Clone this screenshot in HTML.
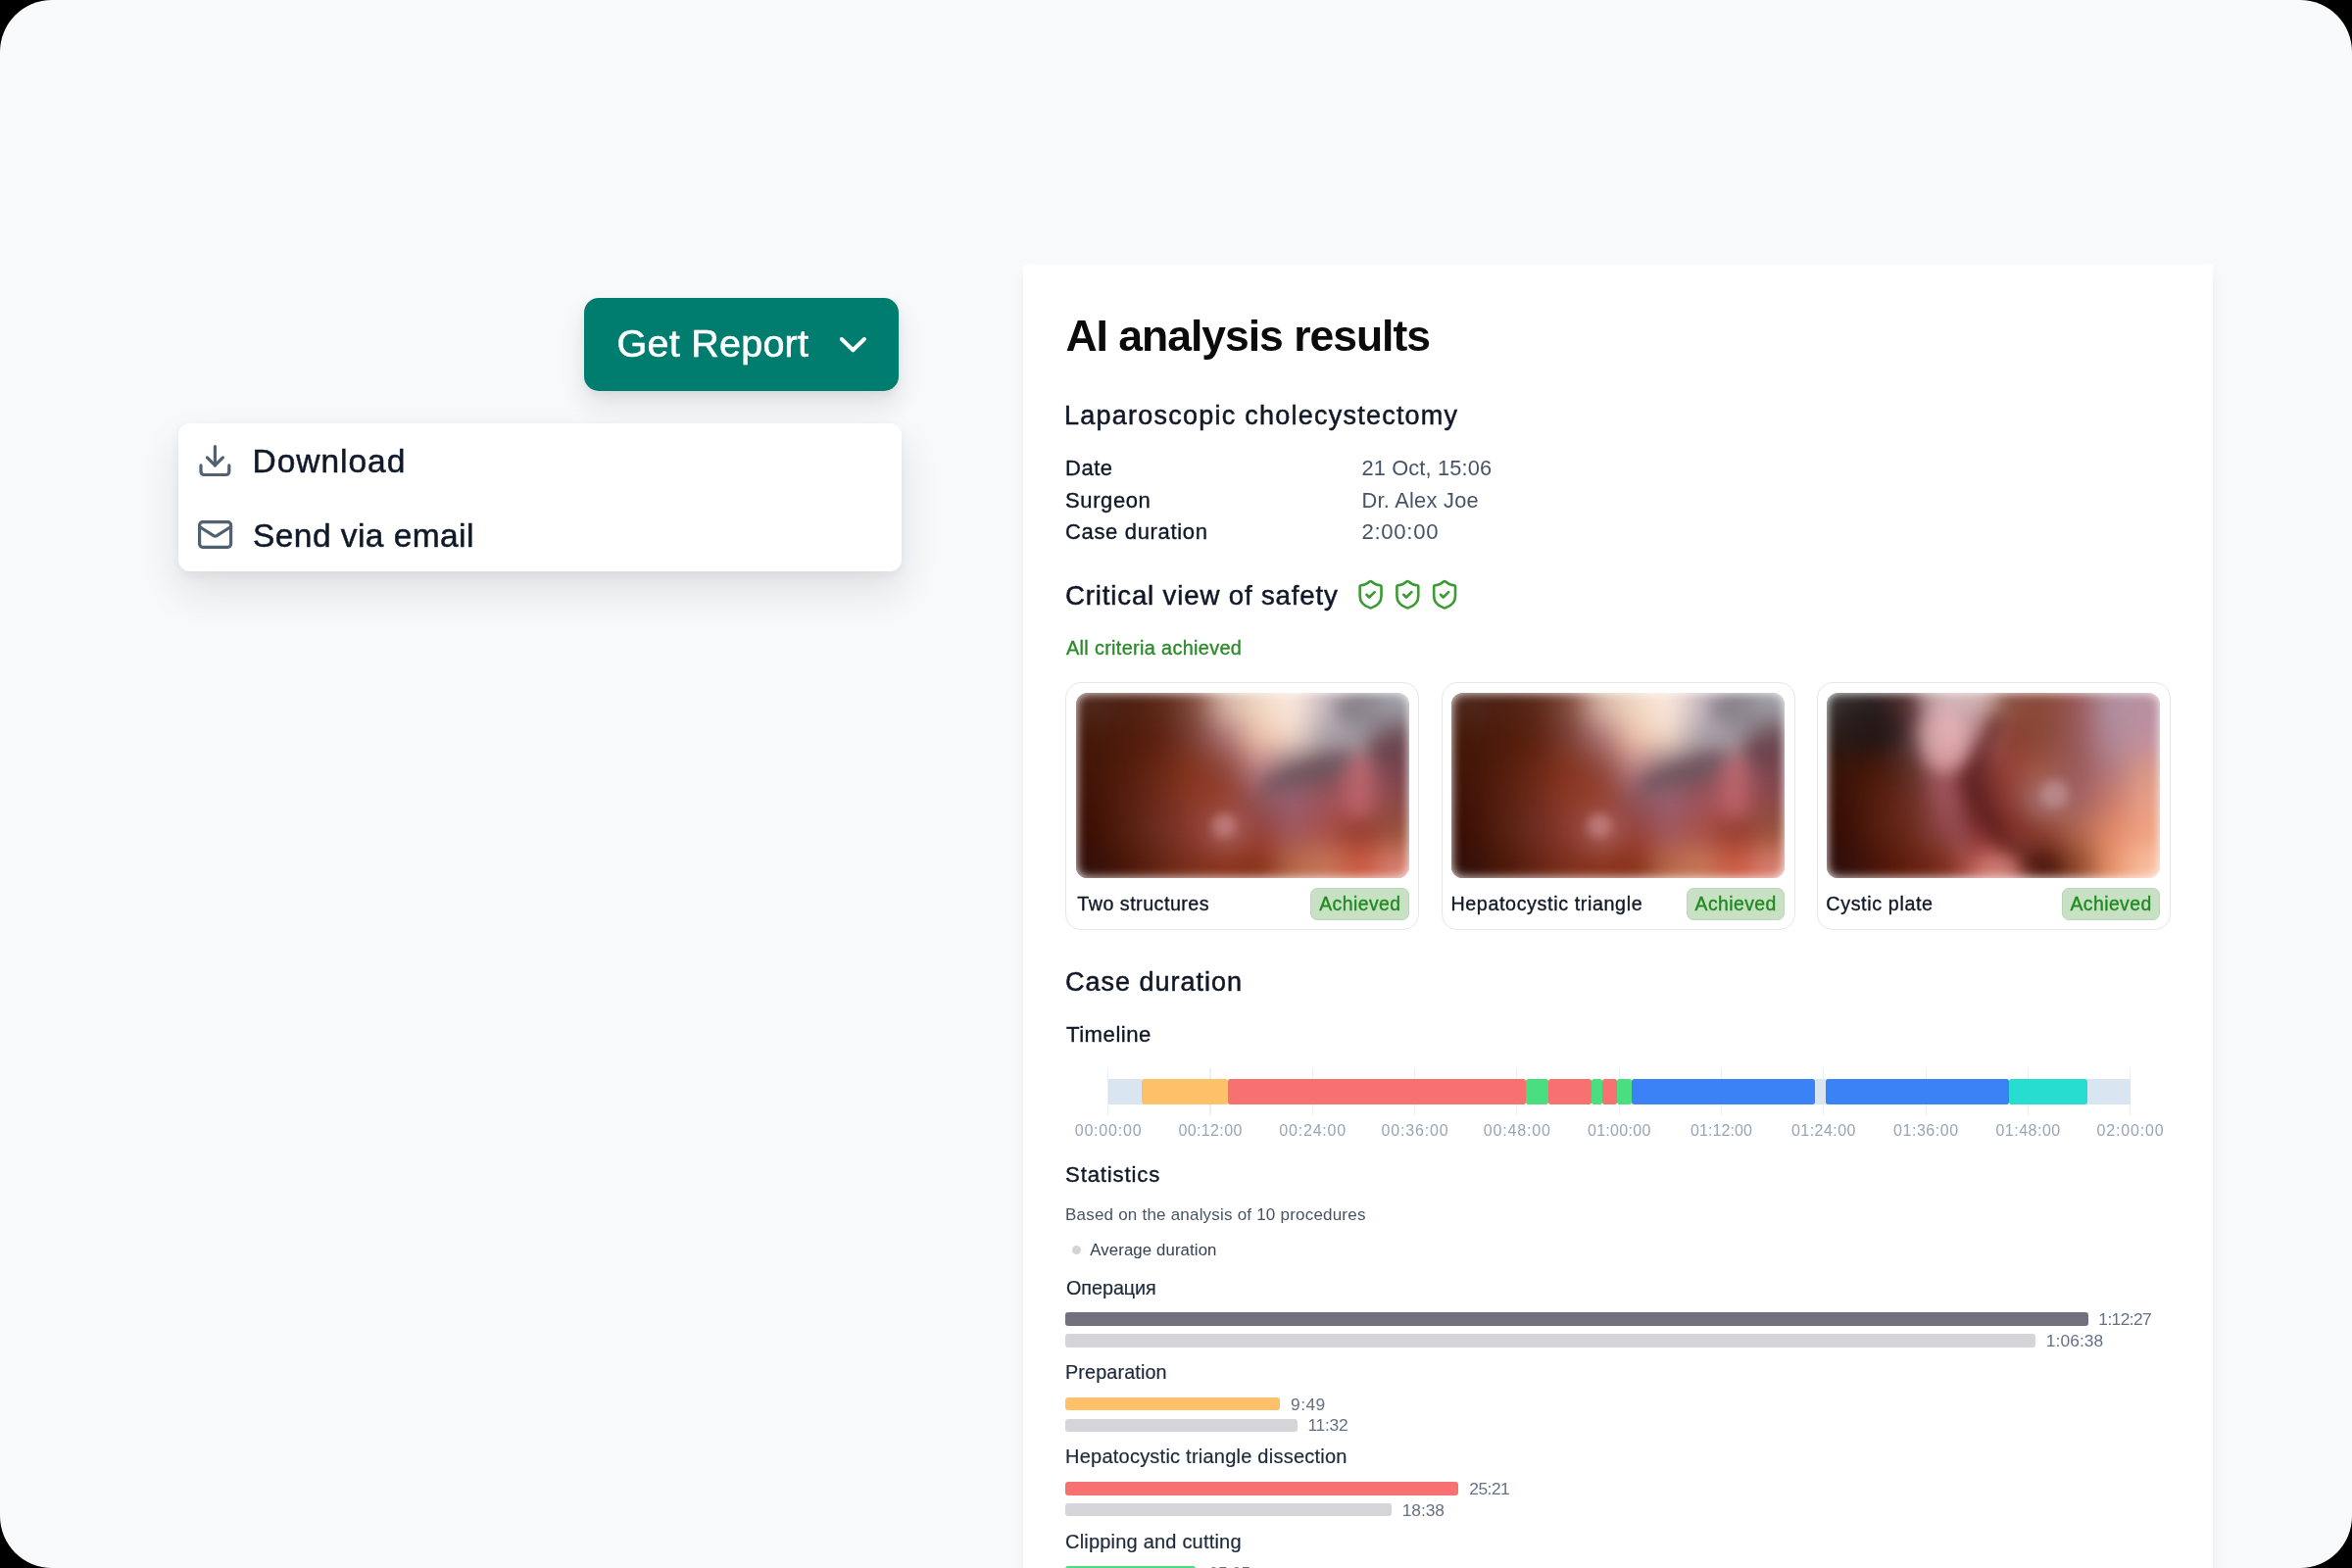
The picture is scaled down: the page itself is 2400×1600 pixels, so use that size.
<!DOCTYPE html>
<html><head><meta charset="utf-8"><title>AI analysis results</title>
<style>
html,body{margin:0;padding:0;background:#000;}
body{width:2400px;height:1600px;overflow:hidden;position:relative;font-family:"Liberation Sans",sans-serif;}
#bg{will-change:transform;position:absolute;left:0;top:0;width:2400px;height:1600px;background:#F8F9FB;border-radius:53px;overflow:hidden;}
.t{position:absolute;white-space:nowrap;line-height:1;font-family:"Liberation Sans",sans-serif;}
.r,.ic,.img{position:absolute;}
#btn{position:absolute;left:596px;top:304px;width:321px;height:95px;border-radius:15px;background:#007D6F;box-shadow:0 14px 26px rgba(16,24,40,0.11),0 3px 8px rgba(16,24,40,0.05);}
#dd{position:absolute;left:181.6px;top:432.2px;width:738.8px;height:151.2px;border-radius:12px;background:#fff;box-shadow:0 20px 40px rgba(16,24,40,0.11),0 4px 12px rgba(16,24,40,0.05);}
#panel{position:absolute;left:1043.8px;top:269.6px;width:1214.4px;height:1400px;background:#fff;box-shadow:0 9px 14px -2px rgba(16,24,40,0.07);}
.card{position:absolute;width:359px;height:251px;border:1px solid #E7E7E8;border-radius:16px;background:#fff;}
.badge{position:absolute;width:98.7px;height:31px;border:1px solid #B9D8B6;border-radius:7px;background:#C8E1C5;}
</style></head><body><div id="bg">
<div id="panel"></div>
<div id="btn"></div>
<div id="dd"></div>
<svg class="ic" style="left:0;top:0" width="2400" height="1600" viewBox="0 0 2400 1600" fill="none" stroke-linecap="round" stroke-linejoin="round">
<path d="M858.8 346 L870.4 357.3 L882 346" stroke="#fff" stroke-width="4"/>
<g transform="translate(200.2 450.9) scale(1.6)" stroke="#526072" stroke-width="2"><path d="M21 15v4a2 2 0 0 1-2 2H5a2 2 0 0 1-2-2v-4"/><polyline points="7 10 12 15 17 10"/><line x1="12" y1="15" x2="12" y2="3"/></g>
<g transform="translate(200.4 526.3) scale(1.6)" stroke="#526072" stroke-width="2"><rect x="2" y="4" width="20" height="16" rx="2"/><path d="m22 7-8.97 5.7a1.94 1.94 0 0 1-2.06 0L2 7"/></g>
<g transform="translate(1382.20 590.4) scale(1.366)" stroke="#3B9B33" stroke-width="1.9"><path d="M20 13c0 5-3.5 7.5-7.66 8.95a1 1 0 0 1-.67-.01C7.5 20.5 4 18 4 13V6a1 1 0 0 1 1-1c2 0 4.5-1.2 6.24-2.72a1.17 1.17 0 0 1 1.52 0C14.51 3.81 17 5 19 5a1 1 0 0 1 1 1z"/><path d="m9 12 2 2 4-4"/></g><g transform="translate(1419.95 590.4) scale(1.366)" stroke="#3B9B33" stroke-width="1.9"><path d="M20 13c0 5-3.5 7.5-7.66 8.95a1 1 0 0 1-.67-.01C7.5 20.5 4 18 4 13V6a1 1 0 0 1 1-1c2 0 4.5-1.2 6.24-2.72a1.17 1.17 0 0 1 1.52 0C14.51 3.81 17 5 19 5a1 1 0 0 1 1 1z"/><path d="m9 12 2 2 4-4"/></g><g transform="translate(1457.70 590.4) scale(1.366)" stroke="#3B9B33" stroke-width="1.9"><path d="M20 13c0 5-3.5 7.5-7.66 8.95a1 1 0 0 1-.67-.01C7.5 20.5 4 18 4 13V6a1 1 0 0 1 1-1c2 0 4.5-1.2 6.24-2.72a1.17 1.17 0 0 1 1.52 0C14.51 3.81 17 5 19 5a1 1 0 0 1 1 1z"/><path d="m9 12 2 2 4-4"/></g>
</svg>
<div class="r" style="left:1130.1px;top:1090.0px;width:1.2px;height:48.0px;background:#E9F0F9;border-radius:0px;"></div><div class="r" style="left:1234.4px;top:1090.0px;width:1.2px;height:48.0px;background:#E9F0F9;border-radius:0px;"></div><div class="r" style="left:1338.7px;top:1090.0px;width:1.2px;height:48.0px;background:#E9F0F9;border-radius:0px;"></div><div class="r" style="left:1443.0px;top:1090.0px;width:1.2px;height:48.0px;background:#E9F0F9;border-radius:0px;"></div><div class="r" style="left:1547.3px;top:1090.0px;width:1.2px;height:48.0px;background:#E9F0F9;border-radius:0px;"></div><div class="r" style="left:1651.6px;top:1090.0px;width:1.2px;height:48.0px;background:#E9F0F9;border-radius:0px;"></div><div class="r" style="left:1755.9px;top:1090.0px;width:1.2px;height:48.0px;background:#E9F0F9;border-radius:0px;"></div><div class="r" style="left:1860.2px;top:1090.0px;width:1.2px;height:48.0px;background:#E9F0F9;border-radius:0px;"></div><div class="r" style="left:1964.5px;top:1090.0px;width:1.2px;height:48.0px;background:#E9F0F9;border-radius:0px;"></div><div class="r" style="left:2068.8px;top:1090.0px;width:1.2px;height:48.0px;background:#E9F0F9;border-radius:0px;"></div><div class="r" style="left:2173.1px;top:1090.0px;width:1.2px;height:48.0px;background:#E9F0F9;border-radius:0px;"></div><div class="r" style="left:1130.7px;top:1100.8px;width:34.7px;height:26.5px;background:#D9E6F2;border-radius:0px;"></div><div class="r" style="left:1165.4px;top:1100.8px;width:87.7px;height:26.5px;background:#FFC06A;border-radius:2.5px;"></div><div class="r" style="left:1253.1px;top:1100.8px;width:303.6px;height:26.5px;background:#F87171;border-radius:2.5px;"></div><div class="r" style="left:1556.7px;top:1100.8px;width:22.9px;height:26.5px;background:#4ADE80;border-radius:2.5px;"></div><div class="r" style="left:1579.6px;top:1100.8px;width:44.4px;height:26.5px;background:#F87171;border-radius:2.5px;"></div><div class="r" style="left:1624.0px;top:1100.8px;width:11.0px;height:26.5px;background:#4ADE80;border-radius:2.5px;"></div><div class="r" style="left:1635.0px;top:1100.8px;width:14.6px;height:26.5px;background:#F87171;border-radius:2.5px;"></div><div class="r" style="left:1649.6px;top:1100.8px;width:15.0px;height:26.5px;background:#4ADE80;border-radius:2.5px;"></div><div class="r" style="left:1664.6px;top:1100.8px;width:187.2px;height:26.5px;background:#3B82F6;border-radius:2.5px;"></div><div class="r" style="left:1851.8px;top:1100.8px;width:11.2px;height:26.5px;background:#D9E6F2;border-radius:0px;"></div><div class="r" style="left:1863.0px;top:1100.8px;width:187.2px;height:26.5px;background:#3B82F6;border-radius:2.5px;"></div><div class="r" style="left:2050.2px;top:1100.8px;width:79.5px;height:26.5px;background:#26DDD0;border-radius:2.5px;"></div><div class="r" style="left:2129.7px;top:1100.8px;width:44.0px;height:26.5px;background:#D9E6F2;border-radius:0px;"></div><div class="r" style="left:1087.3px;top:1339.3px;width:1043.8px;height:13.5px;background:#71717D;border-radius:3px;"></div><div class="r" style="left:1087.3px;top:1361.1px;width:989.8px;height:13.5px;background:#D4D4D9;border-radius:3px;"></div><div class="r" style="left:1087.3px;top:1425.8px;width:218.4px;height:13.5px;background:#FFC06A;border-radius:3px;"></div><div class="r" style="left:1087.3px;top:1447.6px;width:237.2px;height:13.5px;background:#D4D4D9;border-radius:3px;"></div><div class="r" style="left:1087.3px;top:1512.0px;width:400.5px;height:13.5px;background:#F87171;border-radius:3px;"></div><div class="r" style="left:1087.3px;top:1533.8px;width:332.9px;height:13.5px;background:#D4D4D9;border-radius:3px;"></div><div class="r" style="left:1087.3px;top:1598.2px;width:132.8px;height:13.5px;background:#4ADE80;border-radius:3px;"></div><div class="r" style="left:1093.7px;top:1271.4px;width:9.0px;height:9.0px;background:#D4D4D8;border-radius:5px;"></div><div class="card" style="left:1087.3px;top:696px"></div><svg class="img" style="left:1097.9px;top:706.9px" width="340" height="189.2" viewBox="0 0 340 189.2">
<defs><filter id="f1" color-interpolation-filters="sRGB" x="-30%" y="-30%" width="160%" height="160%"><feGaussianBlur stdDeviation="14"/></filter>
<filter id="m1" color-interpolation-filters="sRGB" x="-50%" y="-50%" width="200%" height="200%"><feGaussianBlur stdDeviation="8"/></filter>
<filter id="e1" color-interpolation-filters="sRGB" x="-100%" y="-100%" width="300%" height="300%"><feGaussianBlur stdDeviation="5"/></filter><filter id="w1" color-interpolation-filters="sRGB" x="-10%" y="-15%" width="120%" height="130%"><feGaussianBlur stdDeviation="5.5"/></filter>
<clipPath id="c1"><rect x="0" y="0" width="340" height="189.2" rx="12"/></clipPath></defs>
<g clip-path="url(#c1)"><g filter="url(#f1)"><rect x="-60.0" y="-60.0" width="94.6" height="92.1" fill="#50281C"/><rect x="34.0" y="-60.0" width="34.6" height="92.1" fill="#4E2014"/><rect x="68.0" y="-60.0" width="34.6" height="92.1" fill="#5A2818"/><rect x="102.0" y="-60.0" width="34.6" height="92.1" fill="#80483C"/><rect x="136.0" y="-60.0" width="34.6" height="92.1" fill="#D8B8A8"/><rect x="170.0" y="-60.0" width="34.6" height="92.1" fill="#F0D8C4"/><rect x="204.0" y="-60.0" width="34.6" height="92.1" fill="#FCE8DC"/><rect x="238.0" y="-60.0" width="34.6" height="92.1" fill="#C8B8C0"/><rect x="272.0" y="-60.0" width="34.6" height="92.1" fill="#88808A"/><rect x="306.0" y="-60.0" width="94.6" height="92.1" fill="#A0A0A8"/><rect x="-60.0" y="31.5" width="94.6" height="32.1" fill="#441808"/><rect x="34.0" y="31.5" width="34.6" height="32.1" fill="#4E1A0A"/><rect x="68.0" y="31.5" width="34.6" height="32.1" fill="#5C200E"/><rect x="102.0" y="31.5" width="34.6" height="32.1" fill="#7A3C34"/><rect x="136.0" y="31.5" width="34.6" height="32.1" fill="#A87070"/><rect x="170.0" y="31.5" width="34.6" height="32.1" fill="#F0C0A8"/><rect x="204.0" y="31.5" width="34.6" height="32.1" fill="#F0D8C8"/><rect x="238.0" y="31.5" width="34.6" height="32.1" fill="#A8A0A8"/><rect x="272.0" y="31.5" width="34.6" height="32.1" fill="#A09CA4"/><rect x="306.0" y="31.5" width="94.6" height="32.1" fill="#6A4850"/><rect x="-60.0" y="63.1" width="94.6" height="32.1" fill="#421608"/><rect x="34.0" y="63.1" width="34.6" height="32.1" fill="#521C0C"/><rect x="68.0" y="63.1" width="34.6" height="32.1" fill="#6A2814"/><rect x="102.0" y="63.1" width="34.6" height="32.1" fill="#86341C"/><rect x="136.0" y="63.1" width="34.6" height="32.1" fill="#8C4438"/><rect x="170.0" y="63.1" width="34.6" height="32.1" fill="#B88088"/><rect x="204.0" y="63.1" width="34.6" height="32.1" fill="#7A6068"/><rect x="238.0" y="63.1" width="34.6" height="32.1" fill="#70505A"/><rect x="272.0" y="63.1" width="34.6" height="32.1" fill="#B06068"/><rect x="306.0" y="63.1" width="94.6" height="32.1" fill="#7A4450"/><rect x="-60.0" y="94.6" width="94.6" height="32.1" fill="#401206"/><rect x="34.0" y="94.6" width="34.6" height="32.1" fill="#561E10"/><rect x="68.0" y="94.6" width="34.6" height="32.1" fill="#6E2A1C"/><rect x="102.0" y="94.6" width="34.6" height="32.1" fill="#8C3A28"/><rect x="136.0" y="94.6" width="34.6" height="32.1" fill="#98402C"/><rect x="170.0" y="94.6" width="34.6" height="32.1" fill="#8C5058"/><rect x="204.0" y="94.6" width="34.6" height="32.1" fill="#986070"/><rect x="238.0" y="94.6" width="34.6" height="32.1" fill="#A05058"/><rect x="272.0" y="94.6" width="34.6" height="32.1" fill="#B86068"/><rect x="306.0" y="94.6" width="94.6" height="32.1" fill="#8A4848"/><rect x="-60.0" y="126.1" width="94.6" height="32.1" fill="#3C0E04"/><rect x="34.0" y="126.1" width="34.6" height="32.1" fill="#54200E"/><rect x="68.0" y="126.1" width="34.6" height="32.1" fill="#6E2E22"/><rect x="102.0" y="126.1" width="34.6" height="32.1" fill="#8A3A30"/><rect x="136.0" y="126.1" width="34.6" height="32.1" fill="#B06868"/><rect x="170.0" y="126.1" width="34.6" height="32.1" fill="#984038"/><rect x="204.0" y="126.1" width="34.6" height="32.1" fill="#A05860"/><rect x="238.0" y="126.1" width="34.6" height="32.1" fill="#A85048"/><rect x="272.0" y="126.1" width="34.6" height="32.1" fill="#90382A"/><rect x="306.0" y="126.1" width="94.6" height="32.1" fill="#985038"/><rect x="-60.0" y="157.7" width="94.6" height="92.1" fill="#34100A"/><rect x="34.0" y="157.7" width="34.6" height="92.1" fill="#4A1608"/><rect x="68.0" y="157.7" width="34.6" height="92.1" fill="#642414"/><rect x="102.0" y="157.7" width="34.6" height="92.1" fill="#7E301C"/><rect x="136.0" y="157.7" width="34.6" height="92.1" fill="#8A341C"/><rect x="170.0" y="157.7" width="34.6" height="92.1" fill="#88301A"/><rect x="204.0" y="157.7" width="34.6" height="92.1" fill="#B86848"/><rect x="238.0" y="157.7" width="34.6" height="92.1" fill="#C87858"/><rect x="272.0" y="157.7" width="34.6" height="92.1" fill="#CC5840"/><rect x="306.0" y="157.7" width="94.6" height="92.1" fill="#D88070"/></g><g filter="url(#m1)" fill="none" stroke-linecap="round" stroke-linejoin="round"><polyline points="197.2,94.6 272.0,68.1" stroke="#5E4C54" stroke-width="16" stroke-opacity="0.55"/><polyline points="312.8,58.7 314.5,62.4" stroke="#5E3840" stroke-width="26" stroke-opacity="0.5"/><polyline points="275.4,17.0 278.8,18.9" stroke="#787078" stroke-width="22" stroke-opacity="0.5"/><polyline points="289.0,75.7 289.0,117.3" stroke="#C86C74" stroke-width="18" stroke-opacity="0.5"/></g><g filter="url(#e1)"><ellipse cx="151.0" cy="135.3" rx="12" ry="12" fill="#CC8C8E" fill-opacity="0.6"/></g>
<rect x="-15" y="-15" width="370" height="219.2" rx="27" fill="none" stroke="#fff" stroke-opacity="0.95" stroke-width="30" filter="url(#w1)"/></g></svg><div class="badge" style="left:1337.3px;top:906px"></div><div class="card" style="left:1470.6px;top:696px"></div><svg class="img" style="left:1481.2px;top:706.9px" width="340" height="189.2" viewBox="0 0 340 189.2">
<defs><filter id="f2" color-interpolation-filters="sRGB" x="-30%" y="-30%" width="160%" height="160%"><feGaussianBlur stdDeviation="14"/></filter>
<filter id="m2" color-interpolation-filters="sRGB" x="-50%" y="-50%" width="200%" height="200%"><feGaussianBlur stdDeviation="8"/></filter>
<filter id="e2" color-interpolation-filters="sRGB" x="-100%" y="-100%" width="300%" height="300%"><feGaussianBlur stdDeviation="5"/></filter><filter id="w2" color-interpolation-filters="sRGB" x="-10%" y="-15%" width="120%" height="130%"><feGaussianBlur stdDeviation="5.5"/></filter>
<clipPath id="c2"><rect x="0" y="0" width="340" height="189.2" rx="12"/></clipPath></defs>
<g clip-path="url(#c2)"><g filter="url(#f2)"><rect x="-60.0" y="-60.0" width="94.6" height="92.1" fill="#50281C"/><rect x="34.0" y="-60.0" width="34.6" height="92.1" fill="#4E2014"/><rect x="68.0" y="-60.0" width="34.6" height="92.1" fill="#5A2818"/><rect x="102.0" y="-60.0" width="34.6" height="92.1" fill="#80483C"/><rect x="136.0" y="-60.0" width="34.6" height="92.1" fill="#D8B8A8"/><rect x="170.0" y="-60.0" width="34.6" height="92.1" fill="#F0D8C4"/><rect x="204.0" y="-60.0" width="34.6" height="92.1" fill="#FCE8DC"/><rect x="238.0" y="-60.0" width="34.6" height="92.1" fill="#C8B8C0"/><rect x="272.0" y="-60.0" width="34.6" height="92.1" fill="#88808A"/><rect x="306.0" y="-60.0" width="94.6" height="92.1" fill="#A0A0A8"/><rect x="-60.0" y="31.5" width="94.6" height="32.1" fill="#441808"/><rect x="34.0" y="31.5" width="34.6" height="32.1" fill="#4E1A0A"/><rect x="68.0" y="31.5" width="34.6" height="32.1" fill="#5C200E"/><rect x="102.0" y="31.5" width="34.6" height="32.1" fill="#7A3C34"/><rect x="136.0" y="31.5" width="34.6" height="32.1" fill="#A87070"/><rect x="170.0" y="31.5" width="34.6" height="32.1" fill="#F0C0A8"/><rect x="204.0" y="31.5" width="34.6" height="32.1" fill="#F0D8C8"/><rect x="238.0" y="31.5" width="34.6" height="32.1" fill="#A8A0A8"/><rect x="272.0" y="31.5" width="34.6" height="32.1" fill="#A09CA4"/><rect x="306.0" y="31.5" width="94.6" height="32.1" fill="#6A4850"/><rect x="-60.0" y="63.1" width="94.6" height="32.1" fill="#421608"/><rect x="34.0" y="63.1" width="34.6" height="32.1" fill="#521C0C"/><rect x="68.0" y="63.1" width="34.6" height="32.1" fill="#6A2814"/><rect x="102.0" y="63.1" width="34.6" height="32.1" fill="#86341C"/><rect x="136.0" y="63.1" width="34.6" height="32.1" fill="#8C4438"/><rect x="170.0" y="63.1" width="34.6" height="32.1" fill="#B88088"/><rect x="204.0" y="63.1" width="34.6" height="32.1" fill="#7A6068"/><rect x="238.0" y="63.1" width="34.6" height="32.1" fill="#70505A"/><rect x="272.0" y="63.1" width="34.6" height="32.1" fill="#B06068"/><rect x="306.0" y="63.1" width="94.6" height="32.1" fill="#7A4450"/><rect x="-60.0" y="94.6" width="94.6" height="32.1" fill="#401206"/><rect x="34.0" y="94.6" width="34.6" height="32.1" fill="#561E10"/><rect x="68.0" y="94.6" width="34.6" height="32.1" fill="#6E2A1C"/><rect x="102.0" y="94.6" width="34.6" height="32.1" fill="#8C3A28"/><rect x="136.0" y="94.6" width="34.6" height="32.1" fill="#98402C"/><rect x="170.0" y="94.6" width="34.6" height="32.1" fill="#8C5058"/><rect x="204.0" y="94.6" width="34.6" height="32.1" fill="#986070"/><rect x="238.0" y="94.6" width="34.6" height="32.1" fill="#A05058"/><rect x="272.0" y="94.6" width="34.6" height="32.1" fill="#B86068"/><rect x="306.0" y="94.6" width="94.6" height="32.1" fill="#8A4848"/><rect x="-60.0" y="126.1" width="94.6" height="32.1" fill="#3C0E04"/><rect x="34.0" y="126.1" width="34.6" height="32.1" fill="#54200E"/><rect x="68.0" y="126.1" width="34.6" height="32.1" fill="#6E2E22"/><rect x="102.0" y="126.1" width="34.6" height="32.1" fill="#8A3A30"/><rect x="136.0" y="126.1" width="34.6" height="32.1" fill="#B06868"/><rect x="170.0" y="126.1" width="34.6" height="32.1" fill="#984038"/><rect x="204.0" y="126.1" width="34.6" height="32.1" fill="#A05860"/><rect x="238.0" y="126.1" width="34.6" height="32.1" fill="#A85048"/><rect x="272.0" y="126.1" width="34.6" height="32.1" fill="#90382A"/><rect x="306.0" y="126.1" width="94.6" height="32.1" fill="#985038"/><rect x="-60.0" y="157.7" width="94.6" height="92.1" fill="#34100A"/><rect x="34.0" y="157.7" width="34.6" height="92.1" fill="#4A1608"/><rect x="68.0" y="157.7" width="34.6" height="92.1" fill="#642414"/><rect x="102.0" y="157.7" width="34.6" height="92.1" fill="#7E301C"/><rect x="136.0" y="157.7" width="34.6" height="92.1" fill="#8A341C"/><rect x="170.0" y="157.7" width="34.6" height="92.1" fill="#88301A"/><rect x="204.0" y="157.7" width="34.6" height="92.1" fill="#B86848"/><rect x="238.0" y="157.7" width="34.6" height="92.1" fill="#C87858"/><rect x="272.0" y="157.7" width="34.6" height="92.1" fill="#CC5840"/><rect x="306.0" y="157.7" width="94.6" height="92.1" fill="#D88070"/></g><g filter="url(#m2)" fill="none" stroke-linecap="round" stroke-linejoin="round"><polyline points="197.2,94.6 272.0,68.1" stroke="#5E4C54" stroke-width="16" stroke-opacity="0.55"/><polyline points="312.8,58.7 314.5,62.4" stroke="#5E3840" stroke-width="26" stroke-opacity="0.5"/><polyline points="275.4,17.0 278.8,18.9" stroke="#787078" stroke-width="22" stroke-opacity="0.5"/><polyline points="289.0,75.7 289.0,117.3" stroke="#C86C74" stroke-width="18" stroke-opacity="0.5"/></g><g filter="url(#e2)"><ellipse cx="151.0" cy="135.3" rx="12" ry="12" fill="#CC8C8E" fill-opacity="0.6"/></g>
<rect x="-15" y="-15" width="370" height="219.2" rx="27" fill="none" stroke="#fff" stroke-opacity="0.95" stroke-width="30" filter="url(#w2)"/></g></svg><div class="badge" style="left:1720.6px;top:906px"></div><div class="card" style="left:1853.5px;top:696px"></div><svg class="img" style="left:1864.1px;top:706.9px" width="340" height="189.2" viewBox="0 0 340 189.2">
<defs><filter id="f3" color-interpolation-filters="sRGB" x="-30%" y="-30%" width="160%" height="160%"><feGaussianBlur stdDeviation="14"/></filter>
<filter id="m3" color-interpolation-filters="sRGB" x="-50%" y="-50%" width="200%" height="200%"><feGaussianBlur stdDeviation="8"/></filter>
<filter id="e3" color-interpolation-filters="sRGB" x="-100%" y="-100%" width="300%" height="300%"><feGaussianBlur stdDeviation="5"/></filter><filter id="w3" color-interpolation-filters="sRGB" x="-10%" y="-15%" width="120%" height="130%"><feGaussianBlur stdDeviation="5.5"/></filter>
<clipPath id="c3"><rect x="0" y="0" width="340" height="189.2" rx="12"/></clipPath></defs>
<g clip-path="url(#c3)"><g filter="url(#f3)"><rect x="-60.0" y="-60.0" width="94.6" height="92.1" fill="#3A3434"/><rect x="34.0" y="-60.0" width="34.6" height="92.1" fill="#2E2222"/><rect x="68.0" y="-60.0" width="34.6" height="92.1" fill="#5A3030"/><rect x="102.0" y="-60.0" width="34.6" height="92.1" fill="#C8A8B0"/><rect x="136.0" y="-60.0" width="34.6" height="92.1" fill="#C8A8A8"/><rect x="170.0" y="-60.0" width="34.6" height="92.1" fill="#8A5040"/><rect x="204.0" y="-60.0" width="34.6" height="92.1" fill="#8A4838"/><rect x="238.0" y="-60.0" width="34.6" height="92.1" fill="#985858"/><rect x="272.0" y="-60.0" width="34.6" height="92.1" fill="#B090A0"/><rect x="306.0" y="-60.0" width="94.6" height="92.1" fill="#B890A0"/><rect x="-60.0" y="31.5" width="94.6" height="32.1" fill="#2A1A16"/><rect x="34.0" y="31.5" width="34.6" height="32.1" fill="#2A1410"/><rect x="68.0" y="31.5" width="34.6" height="32.1" fill="#5A3C40"/><rect x="102.0" y="31.5" width="34.6" height="32.1" fill="#E0B0B4"/><rect x="136.0" y="31.5" width="34.6" height="32.1" fill="#B88088"/><rect x="170.0" y="31.5" width="34.6" height="32.1" fill="#8A3C2C"/><rect x="204.0" y="31.5" width="34.6" height="32.1" fill="#8A4838"/><rect x="238.0" y="31.5" width="34.6" height="32.1" fill="#985858"/><rect x="272.0" y="31.5" width="34.6" height="32.1" fill="#B08898"/><rect x="306.0" y="31.5" width="94.6" height="32.1" fill="#C090A0"/><rect x="-60.0" y="63.1" width="94.6" height="32.1" fill="#3A1408"/><rect x="34.0" y="63.1" width="34.6" height="32.1" fill="#4A180A"/><rect x="68.0" y="63.1" width="34.6" height="32.1" fill="#5A2C24"/><rect x="102.0" y="63.1" width="34.6" height="32.1" fill="#B06870"/><rect x="136.0" y="63.1" width="34.6" height="32.1" fill="#6A2828"/><rect x="170.0" y="63.1" width="34.6" height="32.1" fill="#9A4438"/><rect x="204.0" y="63.1" width="34.6" height="32.1" fill="#A05848"/><rect x="238.0" y="63.1" width="34.6" height="32.1" fill="#985858"/><rect x="272.0" y="63.1" width="34.6" height="32.1" fill="#B07880"/><rect x="306.0" y="63.1" width="94.6" height="32.1" fill="#D89888"/><rect x="-60.0" y="94.6" width="94.6" height="32.1" fill="#3A1006"/><rect x="34.0" y="94.6" width="34.6" height="32.1" fill="#561E0E"/><rect x="68.0" y="94.6" width="34.6" height="32.1" fill="#6A2C20"/><rect x="102.0" y="94.6" width="34.6" height="32.1" fill="#9A5058"/><rect x="136.0" y="94.6" width="34.6" height="32.1" fill="#6A2626"/><rect x="170.0" y="94.6" width="34.6" height="32.1" fill="#8A3C34"/><rect x="204.0" y="94.6" width="34.6" height="32.1" fill="#B08080"/><rect x="238.0" y="94.6" width="34.6" height="32.1" fill="#A06060"/><rect x="272.0" y="94.6" width="34.6" height="32.1" fill="#C87868"/><rect x="306.0" y="94.6" width="94.6" height="32.1" fill="#E8A088"/><rect x="-60.0" y="126.1" width="94.6" height="32.1" fill="#360C04"/><rect x="34.0" y="126.1" width="34.6" height="32.1" fill="#561E0E"/><rect x="68.0" y="126.1" width="34.6" height="32.1" fill="#6A2A1C"/><rect x="102.0" y="126.1" width="34.6" height="32.1" fill="#904848"/><rect x="136.0" y="126.1" width="34.6" height="32.1" fill="#7A2C2C"/><rect x="170.0" y="126.1" width="34.6" height="32.1" fill="#7A2820"/><rect x="204.0" y="126.1" width="34.6" height="32.1" fill="#8A3C2C"/><rect x="238.0" y="126.1" width="34.6" height="32.1" fill="#B06850"/><rect x="272.0" y="126.1" width="34.6" height="32.1" fill="#E08868"/><rect x="306.0" y="126.1" width="94.6" height="32.1" fill="#F0A080"/><rect x="-60.0" y="157.7" width="94.6" height="92.1" fill="#30100C"/><rect x="34.0" y="157.7" width="34.6" height="92.1" fill="#4A1408"/><rect x="68.0" y="157.7" width="34.6" height="92.1" fill="#641E0E"/><rect x="102.0" y="157.7" width="34.6" height="92.1" fill="#7A2C1C"/><rect x="136.0" y="157.7" width="34.6" height="92.1" fill="#C06058"/><rect x="170.0" y="157.7" width="34.6" height="92.1" fill="#C07068"/><rect x="204.0" y="157.7" width="34.6" height="92.1" fill="#5A1C10"/><rect x="238.0" y="157.7" width="34.6" height="92.1" fill="#8A4428"/><rect x="272.0" y="157.7" width="34.6" height="92.1" fill="#E89068"/><rect x="306.0" y="157.7" width="94.6" height="92.1" fill="#F8C0A0"/></g><g filter="url(#m3)" fill="none" stroke-linecap="round" stroke-linejoin="round"><polyline points="173.4,30.3 144.5,90.8 176.8,147.6 224.4,177.8" stroke="#541A1A" stroke-width="15" stroke-opacity="0.62"/><polyline points="117.3,37.8 120.7,56.8" stroke="#ECB8BC" stroke-width="46" stroke-opacity="0.55"/><polyline points="102.0,5.7 163.2,5.7" stroke="#E0C4C4" stroke-width="20" stroke-opacity="0.45"/><polyline points="34.0,32.2 54.4,37.8" stroke="#1E1616" stroke-width="44" stroke-opacity="0.5"/><polyline points="122.4,106.0 139.4,158.9" stroke="#A85C64" stroke-width="18" stroke-opacity="0.4"/><polyline points="214.2,176.0 224.4,177.8" stroke="#45160E" stroke-width="26" stroke-opacity="0.5"/><polyline points="166.6,183.5 176.8,185.4" stroke="#E09088" stroke-width="28" stroke-opacity="0.5"/></g><g filter="url(#e3)"><ellipse cx="232.9" cy="103.1" rx="14" ry="14" fill="#C4969C" fill-opacity="0.6"/></g>
<rect x="-15" y="-15" width="370" height="219.2" rx="27" fill="none" stroke="#fff" stroke-opacity="0.95" stroke-width="30" filter="url(#w3)"/></g></svg><div class="badge" style="left:2103.5px;top:906px"></div>
<div class="t" style="left:629.60px;top:331.40px;font-size:39.5px;font-weight:400;color:#ffffff;letter-spacing:0.242px;-webkit-text-stroke:0.6px currentColor;">Get Report</div>
<div class="t" style="left:257.50px;top:453.80px;font-size:33.5px;font-weight:400;color:#0F1A28;letter-spacing:0.978px;-webkit-text-stroke:0.5px currentColor;">Download</div>
<div class="t" style="left:258.00px;top:529.60px;font-size:33.5px;font-weight:400;color:#0F1A28;letter-spacing:0.439px;-webkit-text-stroke:0.5px currentColor;">Send via email</div>
<div class="t" style="left:1087.40px;top:321.40px;font-size:44.5px;font-weight:700;color:#0B0B0C;letter-spacing:-1.009px;">AI analysis results</div>
<div class="t" style="left:1086.00px;top:411.20px;font-size:27px;font-weight:400;color:#101828;letter-spacing:1.238px;-webkit-text-stroke:0.5px currentColor;">Laparoscopic cholecystectomy</div>
<div class="t" style="left:1087.00px;top:467.20px;font-size:22px;font-weight:400;color:#101828;letter-spacing:0.522px;-webkit-text-stroke:0.35px currentColor;">Date</div>
<div class="t" style="left:1087.00px;top:499.90px;font-size:22px;font-weight:400;color:#101828;letter-spacing:0.610px;-webkit-text-stroke:0.35px currentColor;">Surgeon</div>
<div class="t" style="left:1087.00px;top:532.30px;font-size:22px;font-weight:400;color:#101828;letter-spacing:0.663px;-webkit-text-stroke:0.35px currentColor;">Case duration</div>
<div class="t" style="left:1389.40px;top:467.20px;font-size:21.8px;font-weight:400;color:#475467;letter-spacing:0.155px;">21 Oct, 15:06</div>
<div class="t" style="left:1389.40px;top:499.90px;font-size:21.8px;font-weight:400;color:#475467;letter-spacing:0.274px;">Dr. Alex Joe</div>
<div class="t" style="left:1389.40px;top:532.30px;font-size:22.2px;font-weight:400;color:#475467;letter-spacing:0.685px;">2:00:00</div>
<div class="t" style="left:1087.00px;top:593.60px;font-size:27.6px;font-weight:400;color:#101828;letter-spacing:0.848px;-webkit-text-stroke:0.5px currentColor;">Critical view of safety</div>
<div class="t" style="left:1088.00px;top:651.60px;font-size:19.9px;font-weight:400;color:#2B8A2B;letter-spacing:0.320px;-webkit-text-stroke:0.35px currentColor;">All criteria achieved</div>
<div class="t" style="left:1099.30px;top:913.40px;font-size:19.7px;font-weight:400;color:#101828;letter-spacing:0.487px;-webkit-text-stroke:0.35px currentColor;">Two structures</div>
<div class="t" style="left:1480.40px;top:913.40px;font-size:19.7px;font-weight:400;color:#101828;letter-spacing:0.625px;-webkit-text-stroke:0.35px currentColor;">Hepatocystic triangle</div>
<div class="t" style="left:1863.30px;top:913.40px;font-size:19.7px;font-weight:400;color:#101828;letter-spacing:0.636px;-webkit-text-stroke:0.35px currentColor;">Cystic plate</div>
<div class="t" style="left:1346.20px;top:913.40px;font-size:19.4px;font-weight:400;color:#1F8A1F;letter-spacing:0.445px;-webkit-text-stroke:0.35px currentColor;">Achieved</div>
<div class="t" style="left:1729.50px;top:913.40px;font-size:19.4px;font-weight:400;color:#1F8A1F;letter-spacing:0.445px;-webkit-text-stroke:0.35px currentColor;">Achieved</div>
<div class="t" style="left:2112.40px;top:913.40px;font-size:19.4px;font-weight:400;color:#1F8A1F;letter-spacing:0.445px;-webkit-text-stroke:0.35px currentColor;">Achieved</div>
<div class="t" style="left:1087.00px;top:988.50px;font-size:27px;font-weight:400;color:#101828;letter-spacing:0.993px;-webkit-text-stroke:0.5px currentColor;">Case duration</div>
<div class="t" style="left:1088.00px;top:1044.80px;font-size:22.2px;font-weight:400;color:#101828;letter-spacing:0.474px;-webkit-text-stroke:0.35px currentColor;">Timeline</div>
<div class="t" style="left:1087.00px;top:1188.20px;font-size:22.2px;font-weight:400;color:#101828;letter-spacing:0.836px;-webkit-text-stroke:0.35px currentColor;">Statistics</div>
<div class="t" style="left:1087.00px;top:1230.70px;font-size:17px;font-weight:400;color:#475467;letter-spacing:0.210px;">Based on the analysis of 10 procedures</div>
<div class="t" style="left:1112.30px;top:1268.00px;font-size:16.8px;font-weight:400;color:#344054;letter-spacing:0.108px;">Average duration</div>
<div class="t" style="left:1088.00px;top:1305.00px;font-size:19.8px;font-weight:400;color:#1D2939;letter-spacing:-0.055px;-webkit-text-stroke:0.2px currentColor;">Операция</div>
<div class="t" style="left:1087.00px;top:1390.80px;font-size:19.8px;font-weight:400;color:#1D2939;letter-spacing:0.133px;-webkit-text-stroke:0.2px currentColor;">Preparation</div>
<div class="t" style="left:1087.00px;top:1476.00px;font-size:20px;font-weight:400;color:#1D2939;letter-spacing:0.235px;-webkit-text-stroke:0.2px currentColor;">Hepatocystic triangle dissection</div>
<div class="t" style="left:1087.00px;top:1562.50px;font-size:20px;font-weight:400;color:#1D2939;letter-spacing:0.203px;-webkit-text-stroke:0.2px currentColor;">Clipping and cutting</div>
<div class="t" style="left:2141.30px;top:1338.30px;font-size:17.4px;font-weight:400;color:#667085;letter-spacing:-0.592px;">1:12:27</div>
<div class="t" style="left:2087.80px;top:1360.00px;font-size:17.4px;font-weight:400;color:#667085;letter-spacing:0.058px;">1:06:38</div>
<div class="t" style="left:1317.10px;top:1424.70px;font-size:17.4px;font-weight:400;color:#667085;letter-spacing:0.442px;">9:49</div>
<div class="t" style="left:1334.50px;top:1446.40px;font-size:17.4px;font-weight:400;color:#667085;letter-spacing:-0.264px;">11:32</div>
<div class="t" style="left:1499.30px;top:1510.90px;font-size:17.4px;font-weight:400;color:#667085;letter-spacing:-0.512px;">25:21</div>
<div class="t" style="left:1430.70px;top:1532.60px;font-size:17.4px;font-weight:400;color:#667085;letter-spacing:-0.062px;">18:38</div>
<div class="t" style="left:1233.50px;top:1597.20px;font-size:17.4px;font-weight:400;color:#667085;letter-spacing:-0.187px;">05:05</div>
<div class="t" style="left:1096.70px;top:1146.00px;font-size:16px;font-weight:400;color:#98A5B5;letter-spacing:0.802px;">00:00:00</div>
<div class="t" style="left:1202.60px;top:1146.00px;font-size:16px;font-weight:400;color:#98A5B5;letter-spacing:0.345px;">00:12:00</div>
<div class="t" style="left:1305.35px;top:1146.00px;font-size:16px;font-weight:400;color:#98A5B5;letter-spacing:0.788px;">00:24:00</div>
<div class="t" style="left:1409.45px;top:1146.00px;font-size:16px;font-weight:400;color:#98A5B5;letter-spacing:0.845px;">00:36:00</div>
<div class="t" style="left:1513.75px;top:1146.00px;font-size:16px;font-weight:400;color:#98A5B5;letter-spacing:0.845px;">00:48:00</div>
<div class="t" style="left:1619.95px;top:1146.00px;font-size:16px;font-weight:400;color:#98A5B5;letter-spacing:0.302px;">01:00:00</div>
<div class="t" style="left:1724.95px;top:1146.00px;font-size:16px;font-weight:400;color:#98A5B5;letter-spacing:0.102px;">01:12:00</div>
<div class="t" style="left:1828.00px;top:1146.00px;font-size:16px;font-weight:400;color:#98A5B5;letter-spacing:0.460px;">01:24:00</div>
<div class="t" style="left:1932.05px;top:1146.00px;font-size:16px;font-weight:400;color:#98A5B5;letter-spacing:0.531px;">01:36:00</div>
<div class="t" style="left:2036.45px;top:1146.00px;font-size:16px;font-weight:400;color:#98A5B5;letter-spacing:0.502px;">01:48:00</div>
<div class="t" style="left:2139.55px;top:1146.00px;font-size:16px;font-weight:400;color:#98A5B5;letter-spacing:0.845px;">02:00:00</div>
</div></body></html>
